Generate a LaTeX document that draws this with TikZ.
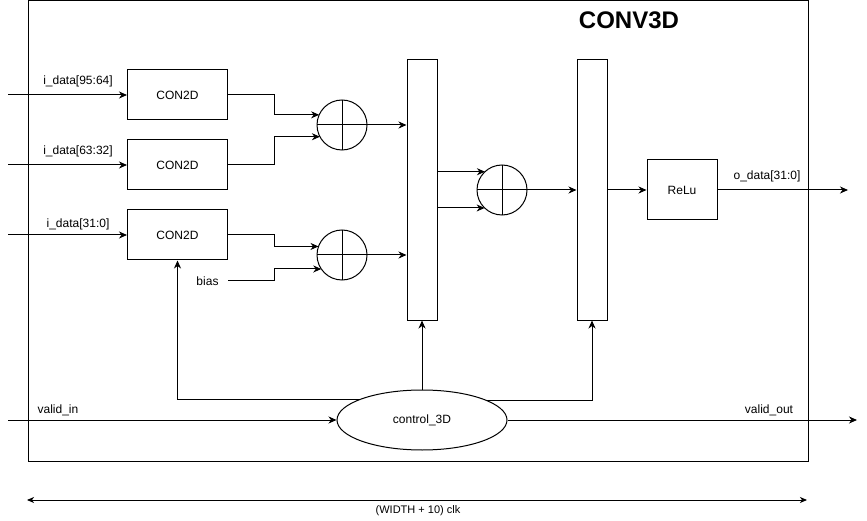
\documentclass[tikz,border=0pt]{standalone}
\usepackage{fontspec}
\setmainfont{Liberation Sans}
\usetikzlibrary{arrows.meta,shapes.geometric,calc}
\begin{document}
\begin{tikzpicture}[x=1pt,y=-1pt,line width=1pt,
  font=\fontsize{12}{14}\selectfont,
  arr/.style={-{Stealth[length=8pt,width=7pt,inset=2.5pt]}},
  blk/.style={draw,minimum width=100pt,minimum height=50pt,inner sep=0pt},
  tall/.style={draw,minimum width=30pt,minimum height=260pt,inner sep=0pt},
  adder/.style={draw,circle,minimum size=50pt,inner sep=0pt,outer sep=0pt},
  lbl/.style={inner sep=0pt}]
\useasboundingbox (0,0) rectangle (867,521);
% outer frame
\node[draw,minimum width=780pt,minimum height=460pt,inner sep=0pt,anchor=north west] (frame) at (27.5,0.5) {};
\node[font=\fontsize{24}{26}\selectfont\bfseries] (title) at (629,20) {CONV3D};
% CON2D blocks
\node[blk] (b1) at (177.5,95) {CON2D};
\node[blk] (b2) at (177.5,165) {CON2D};
\node[blk] (b3) at (177.5,235) {CON2D};
% inputs
\coordinate (in1) at (8,95);
\coordinate (in2) at (8,165);
\coordinate (in3) at (8,235);
\draw[arr] (in1) -- (b1.west);
\draw[arr] (in2) -- (b2.west);
\draw[arr] (in3) -- (b3.west);
\node[lbl] (l1) at (78,81) {i\_data[95:64]};
\node[lbl] (l2) at (78,151) {i\_data[63:32]};
\node[lbl] (l3) at (78,224) {i\_data[31:0]};
% adders
\node[adder] (c1) at (342,125) {};
\node[adder] (c2) at (342,255) {};
\node[adder] (c3) at (502,190) {};
\foreach \c in {c1,c2,c3}{
  \draw (\c.north) -- (\c.south);
  \draw (\c.west) -- (\c.east);
}
% tall registers
\node[tall] (r1) at (422,190) {};
\node[tall] (r2) at (592,190) {};
% ReLu
\node[draw,minimum width=70pt,minimum height=60pt,inner sep=0pt] (relu) at (682,190) {ReLu};
% connections to adders
\draw[arr] (b1.east) -- ++(46,0) |- (c1.156.4);
\draw[arr] (b2.east) -- ++(46,0) |- (c1.208.7);
\draw[arr] (b3.east) -- ++(46,0) |- (c2.160.6);
\node[lbl,inner xsep=9pt] (bias) at (207.5,281) {bias};
\draw[arr] (bias.east) -- ++(46,0) |- (c2.214.1);
\draw[arr] (c1.east) -- (c1.east -| r1.west);
\draw[arr] (c2.east) -- (c2.east -| r1.west);
\draw[arr] (c3.133.9 -| r1.east) -- (c3.133.9);
\draw[arr] (c3.226.1 -| r1.east) -- (c3.226.1);
\draw[arr] (c3.east) -- (c3.east -| r2.west);
\draw[arr] (relu.west -| r2.east) -- (relu.west);
\coordinate (oend) at (848,190);
\draw[arr] (relu.east) -- (oend);
\node[lbl] (ol) at (767,176) {o\_data[31:0]};
% control
\node[draw,ellipse,minimum width=170pt,minimum height=60pt,inner sep=0pt] (ctrl) at (422,420) {control\_3D};
\draw[arr] (ctrl.162.4) -| (b3.south);
\draw[arr] (ctrl.north) -- (r1.south);
\draw[arr] (ctrl.17.6) -| (r2.south);
\coordinate (vin) at (8,420);
\coordinate (vout) at (857,420);
\draw[arr] (vin) -- (ctrl.west);
\draw[arr] (ctrl.east) -- (vout);
\node[lbl] (vil) at (58,410) {valid\_in};
\node[lbl] (vol) at (769,410) {valid\_out};
% width dimension
\coordinate (d1) at (27,500);
\coordinate (d2) at (807,500);
\draw[{Stealth[length=7pt,width=6pt,inset=2pt]}-{Stealth[length=7pt,width=6pt,inset=2pt]}] (d1) -- (d2);
\node[lbl,font=\fontsize{11}{13}\selectfont] (dl) at (418,511) {(WIDTH + 10) clk};
\end{tikzpicture}
\end{document}
